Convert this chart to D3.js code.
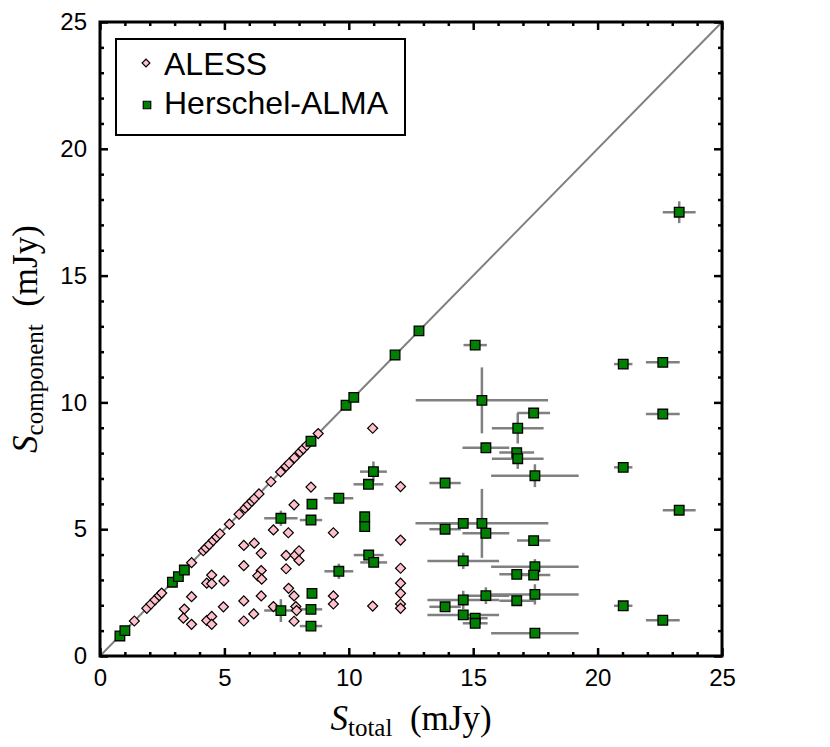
<!DOCTYPE html>
<html>
<head>
<meta charset="utf-8">
<script src="https://cdn.jsdelivr.net/npm/d3@7"></script>
<style>
  body { margin: 0; background: #fff; }
  .tick text { font-family: "Liberation Sans", Arial, sans-serif; font-size: 24px; fill: #000; }
</style>
</head>
<body>
<script>
var width = 830, height = 747;

// ALESS components (total flux, component flux)
var alessX = [1.38, 1.88, 2.05, 2.21, 2.38, 2.48, 3.68, 4.15, 4.26, 4.39, 4.55, 4.69, 4.82, 5.2, 5.59, 5.83, 5.96, 6.1, 6.2, 6.39, 6.87, 7.26, 7.48, 7.6, 7.81, 8.04, 8.17, 8.31, 8.77,
    3.68, 3.39, 3.35, 3.68, 4.29, 4.49, 4.49, 4.98, 4.29, 4.49, 4.49, 4.96,
    5.78, 6.2, 6.48, 5.78, 6.48, 6.34, 6.5, 6.48, 5.78, 6.18, 5.78, 6.97,
    6.97, 7.57, 7.8, 8.48, 7.48, 7.48, 7.84, 8.0, 8.0, 7.58, 7.8, 7.87, 7.9, 7.8,
    10.96, 9.38, 9.38, 9.38, 10.96, 12.08, 12.08, 12.08, 12.08, 12.08, 12.08, 12.08];
var alessY = [1.38, 1.88, 2.05, 2.21, 2.38, 2.48, 3.68, 4.15, 4.26, 4.39, 4.55, 4.69, 4.82, 5.2, 5.59, 5.83, 5.96, 6.1, 6.2, 6.39, 6.87, 7.26, 7.48, 7.6, 7.81, 8.04, 8.17, 8.31, 8.77,
    2.34, 1.85, 1.49, 1.25, 2.87, 3.19, 2.85, 2.96, 1.4, 1.56, 1.25, 1.94,
    4.36, 4.45, 4.05, 3.56, 3.37, 3.16, 3.03, 2.37, 2.17, 1.66, 1.38, 1.95,
    4.97, 4.86, 5.96, 6.66, 3.97, 3.44, 3.97, 4.15, 3.77, 2.67, 2.37, 1.95, 1.79, 1.37,
    8.98, 4.86, 2.37, 2.05, 1.97, 6.68, 4.57, 3.46, 2.87, 2.47, 2.05, 1.88];

// Herschel-ALMA components with errors
var herschelX = [0.8, 1.0, 2.91, 3.15, 3.39, 7.27, 7.27, 8.48, 8.52, 8.48, 8.52, 8.48, 8.48,
    9.6, 9.6, 9.89, 10.2, 10.64, 10.64, 10.79, 10.99, 10.8, 11.0, 11.86, 12.82,
    13.87, 13.87, 13.87, 14.6, 14.6, 14.6, 14.6, 15.08, 15.08, 15.08, 15.35, 15.35,
    15.51, 15.51, 15.51, 16.75, 16.79, 16.79, 16.75, 16.75, 17.43, 17.48, 17.43, 17.48, 17.43, 17.48, 17.48,
    21.03, 21.03, 21.03, 22.62, 22.62, 22.62, 23.28, 23.28];
var herschelY = [0.79, 1.0, 2.91, 3.13, 3.39, 5.43, 1.79, 8.47, 5.99, 5.36, 2.47, 1.84, 1.18,
    6.22, 3.34, 9.89, 10.2, 5.49, 5.1, 6.77, 7.27, 3.98, 3.69, 11.87, 12.82,
    6.82, 5.0, 1.94, 5.23, 3.75, 2.21, 1.62, 12.26, 1.49, 1.29, 10.08, 5.23,
    8.21, 4.84, 2.38, 8.02, 8.98, 7.78, 3.22, 2.18, 9.58, 7.11, 4.55, 3.52, 3.19, 2.43, 0.9,
    11.51, 7.44, 1.98, 11.58, 9.54, 1.41, 17.5, 5.75];
var herschelXErr = [0, 0, 0, 0, 0, 0.67, 0.67, 0, 0, 0.45, 0, 0.45, 0.45,
    0.58, 0.58, 0.15, 0.15, 0, 0, 0.6, 0.54, 0.6, 0.54, 0, 0.15,
    0.63, 0.63, 0.63, 0.6, 1.44, 1.44, 1.44, 0.47, 0.5, 0.5, 2.66, 2.67,
    0.94, 0.94, 0.94, 0.7, 1.04, 1.04, 0.7, 0.7, 0.66, 1.76, 0.67, 1.76, 0.67, 1.76, 1.76,
    0.37, 0.37, 0.37, 0.68, 0.68, 0.68, 0.66, 0.66];
var herschelYErr = [0, 0, 0, 0, 0, 0.3, 0.45, 0, 0, 0, 0, 0, 0,
    0, 0.3, 0.15, 0.15, 0, 0.15, 0, 0.4, 0, 0, 0, 0.15,
    0, 0, 0, 0.2, 0.32, 0.36, 0, 0.2, 0, 0, 1.3, 1.36,
    0.2, 0.2, 0.33, 0, 0.6, 0.4, 0, 0, 0, 0.45, 0, 0.3, 0, 0.4, 0,
    0, 0, 0, 0.15, 0.1, 0, 0.43, 0.15];

var majorTicks = [0, 5, 10, 15, 20, 25];
var minorTicks = d3.range(0, 26, 1).filter(function(d) { return d % 5 != 0; });

var x = d3.scaleLinear().domain([0, 25]).range([100, 722]);
var y = d3.scaleLinear().domain([0, 25]).range([656, 22]);

var svg = d3.select("body").append("svg")
    .attr("width", width)
    .attr("height", height);

svg.append("clipPath").attr("id", "plotclip")
  .append("rect")
    .attr("x", x(0)).attr("y", y(25))
    .attr("width", x(25) - x(0)).attr("height", y(0) - y(25));

var plot = svg.append("g").attr("clip-path", "url(#plotclip)");

// 1:1 line
plot.append("line")
    .attr("x1", x(0)).attr("y1", y(0))
    .attr("x2", x(25)).attr("y2", y(25))
    .attr("stroke", "#808080")
    .attr("stroke-width", 2);

var herschel = herschelX.map(function(d, i) {
    return {x: d, y: herschelY[i], xe: herschelXErr[i], ye: herschelYErr[i]};
});
var aless = alessX.map(function(d, i) { return {x: d, y: alessY[i]}; });

// error bars
plot.selectAll(".xerr")
    .data(herschel.filter(function(d) { return d.xe > 0; }))
    .enter().append("line")
    .attr("class", "xerr")
    .attr("x1", function(d) { return x(d.x - d.xe); })
    .attr("x2", function(d) { return x(d.x + d.xe); })
    .attr("y1", function(d) { return y(d.y); })
    .attr("y2", function(d) { return y(d.y); })
    .attr("stroke", "#808080").attr("stroke-width", 2.5);

plot.selectAll(".yerr")
    .data(herschel.filter(function(d) { return d.ye > 0; }))
    .enter().append("line")
    .attr("class", "yerr")
    .attr("x1", function(d) { return x(d.x); })
    .attr("x2", function(d) { return x(d.x); })
    .attr("y1", function(d) { return y(d.y - d.ye); })
    .attr("y2", function(d) { return y(d.y + d.ye); })
    .attr("stroke", "#808080").attr("stroke-width", 2.5);

var diamond = d3.symbol().type(d3.symbolSquare).size(50);
var square = d3.symbol().type(d3.symbolSquare).size(92);

plot.selectAll(".aless")
    .data(aless)
    .enter().append("path")
    .attr("class", "aless")
    .attr("d", diamond)
    .attr("transform", function(d) { return "translate(" + x(d.x) + "," + y(d.y) + ") rotate(45)"; })
    .attr("fill", "#ffc0cb")
    .attr("stroke", "#000")
    .attr("stroke-width", 1.2);

plot.selectAll(".herschel")
    .data(herschel)
    .enter().append("path")
    .attr("class", "herschel")
    .attr("d", square)
    .attr("transform", function(d) { return "translate(" + x(d.x) + "," + y(d.y) + ")"; })
    .attr("fill", "#008000")
    .attr("stroke", "#000")
    .attr("stroke-width", 1.3);

// axes: ticks point inward on all four sides
function drawAxis(axis, tx, ty, labels) {
    var g = svg.append("g").attr("transform", "translate(" + tx + "," + ty + ")");
    g.call(axis.tickValues(majorTicks).tickSize(-8).tickPadding(labels ? 13 : 0)
        .tickFormat(labels ? d3.format("d") : ""));
    g.select(".domain").remove();
    g.selectAll("line").attr("stroke-width", 2.5);
    var gm = svg.append("g").attr("transform", "translate(" + tx + "," + ty + ")");
    gm.call(axis.tickValues(minorTicks).tickSize(-4).tickFormat(""));
    gm.select(".domain").remove();
    gm.selectAll("line").attr("stroke-width", 2.5);
    return g;
}
drawAxis(d3.axisBottom(x), 0, y(0), true);
drawAxis(d3.axisTop(x), 0, y(25), false);
drawAxis(d3.axisLeft(y), x(0), 0, true);
drawAxis(d3.axisRight(y), x(25), 0, false);

svg.append("rect")
    .attr("x", x(0)).attr("y", y(25))
    .attr("width", x(25) - x(0)).attr("height", y(0) - y(25))
    .attr("fill", "none")
    .attr("stroke", "#000")
    .attr("stroke-width", 3);

// axis titles
var xt = svg.append("text")
    .attr("x", (x(0) + x(25)) / 2).attr("y", 730)
    .attr("text-anchor", "middle")
    .style("font-family", "'Liberation Serif', 'Times New Roman', serif")
    .style("font-size", "35px");
xt.append("tspan").style("font-style", "italic").text("S");
xt.append("tspan").attr("dy", 6).style("font-size", "25px").text("total");
xt.append("tspan").attr("dy", -6).text("\u2002(mJy)");

var yt = svg.append("text")
    .attr("transform", "translate(37," + ((y(0) + y(25)) / 2) + ") rotate(-90)")
    .attr("text-anchor", "middle")
    .style("font-family", "'Liberation Serif', 'Times New Roman', serif")
    .style("font-size", "35px");
yt.append("tspan").style("font-style", "italic").text("S");
yt.append("tspan").attr("dy", 6).style("font-size", "25px").text("component");
yt.append("tspan").attr("dy", -6).text("\u2002(mJy)");

// legend
var legend = svg.append("g");
legend.append("rect")
    .attr("x", 116).attr("y", 39)
    .attr("width", 289).attr("height", 96)
    .attr("fill", "#fff")
    .attr("stroke", "#000")
    .attr("stroke-width", 2);
legend.append("path")
    .attr("d", d3.symbol().type(d3.symbolSquare).size(30))
    .attr("transform", "translate(146,63) rotate(45)")
    .attr("fill", "#ffc0cb").attr("stroke", "#000").attr("stroke-width", 1.2);
legend.append("path")
    .attr("d", d3.symbol().type(d3.symbolSquare).size(56))
    .attr("transform", "translate(147,105)")
    .attr("fill", "#008000").attr("stroke", "#000").attr("stroke-width", 1.2);
legend.selectAll(".ltext")
    .data(["ALESS", "Herschel-ALMA"])
    .enter().append("text")
    .attr("x", 164)
    .attr("y", function(d, i) { return 75 + i * 39; })
    .style("font-family", "'Liberation Sans', Arial, sans-serif")
    .style("font-size", "32px")
    .text(function(d) { return d; });
</script>
</body>
</html>
